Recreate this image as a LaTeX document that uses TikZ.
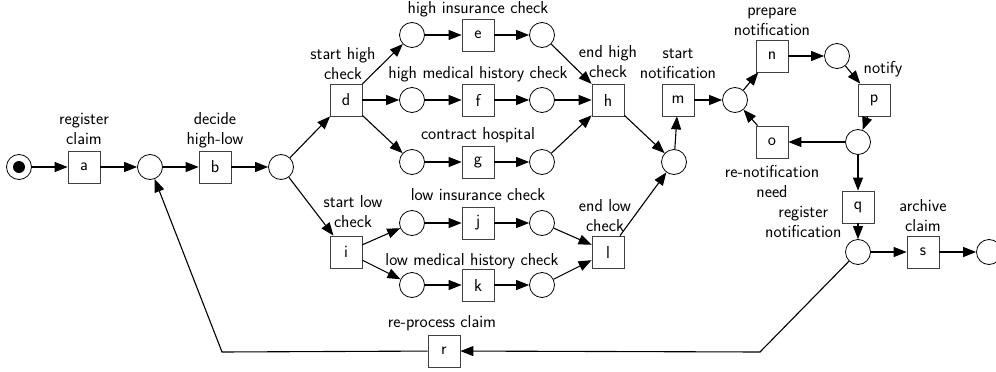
\documentclass[tikz,border=0pt]{standalone}
\usepackage{fontspec}
\usetikzlibrary{arrows.meta}
\begin{document}
\begin{tikzpicture}[x=1pt,y=-1pt,
  every node/.style={font=\sffamily\fontsize{17.3}{20}\selectfont},
  trans/.style={draw=black!75, line width=0.8pt, minimum size=32pt, inner sep=0pt},
  place/.style={circle, draw=black, line width=0.8pt, minimum size=25pt, inner sep=0pt},
  lbl/.style={align=center, inner sep=0pt, text depth=0pt, label distance=6pt},
  arc/.style={line width=1.1pt, -{Triangle[length=13pt,width=10pt]}},
  ]
\useasboundingbox (0,0) rectangle (996,372);
% places and transitions
\node[place] (start) at (19,167) {};
\fill (start.center) circle (6pt);
\node[trans, label={[lbl]above:{register\\claim}}] (a) at (84,167) {a};
\node[place] (p1) at (150,167) {};
\node[trans, label={[lbl]above:{decide\\high-low}}] (b) at (215,167) {b};
\node[place] (p2) at (281,167) {};
\node[trans, label={[lbl,xshift=-3pt,label distance=4pt]above:{start high\\check}}] (d) at (346,100) {d};
\node[place] (pe1) at (412,35) {};
\node[trans, label={[lbl,label distance=5pt]above:{high insurance check}}] (e) at (478,35) {e};
\node[place] (pe2) at (542,35) {};
\node[place] (pf1) at (412,100) {};
\node[trans, label={[lbl,label distance=5pt]above:{high medical history check}}] (f) at (478,100) {f};
\node[place] (pf2) at (542,100) {};
\node[place] (pg1) at (412,162) {};
\node[trans, label={[lbl]above:{contract hospital}}] (g) at (478,162) {g};
\node[place] (pg2) at (542,162) {};
\node[trans, label={[lbl]above:{end high\\check}}] (h) at (608,100) {h};
\node[trans, label={[lbl,xshift=7pt,label distance=8pt]above:{start low\\check}}] (i) at (346,252) {i};
\node[place] (pj1) at (412,223) {};
\node[trans, label={[lbl]above:{low insurance check}}] (j) at (478,223) {j};
\node[place] (pj2) at (542,223) {};
\node[place] (pk1) at (412,285) {};
\node[trans, label={[lbl,xshift=-6pt,label distance=3pt]above:{low medical history check}}] (k) at (478,285) {k};
\node[place] (pk2) at (542,285) {};
\node[trans, label={[lbl,xshift=-3pt,label distance=4pt]above:{end low\\check}}] (l) at (608,252) {l};
\node[place] (pm) at (674,162) {};
\node[trans, label={[lbl,label distance=5pt]above:{start\\notification}}] (m) at (678,100) {m};
\node[place] (pn) at (735,100) {};
\node[trans, label={[lbl,label distance=4pt]above:{prepare\\notification}}] (n) at (772,56) {n};
\node[place] (pn2) at (837,56) {};
\node[trans, label={[lbl,xshift=9pt,label distance=10pt]above:{notify}}] (p) at (874,100) {p};
\node[place] (pp) at (858,142) {};
\node[trans, label={[lbl,label distance=7pt]below:{re-notification\\need}}] (o) at (772,142) {o};
\node[trans, label={[lbl,yshift=-15pt,label distance=0pt]left:{register\\notification}}] (q) at (858,207) {q};
\node[place] (pq) at (858,252) {};
\node[trans, label={[lbl,label distance=4pt]above:{archive\\claim}}] (s) at (923,252) {s};
\node[place] (pend) at (989,252) {};
\node[trans, label={[lbl,xshift=-2pt,label distance=7pt]above:{re-process claim}}] (r) at (444,351) {r};
\coordinate (c1) at (760,352);
\coordinate (c2) at (222,352);
% arcs
\draw[arc] (start) -- (a);
\draw[arc] (a) -- (p1);
\draw[arc] (p1) -- (b);
\draw[arc] (b) -- (p2);
\draw[arc] (p2) -- (d);
\draw[arc] (p2) -- (i);
\draw[arc] (d) -- (pe1);
\draw[arc] (d) -- (pf1);
\draw[arc] (d) -- (pg1);
\draw[arc] (pe1) -- (e);
\draw[arc] (e) -- (pe2);
\draw[arc] (pf1) -- (f);
\draw[arc] (f) -- (pf2);
\draw[arc] (pg1) -- (g);
\draw[arc] (g) -- (pg2);
\draw[arc] (pe2) -- (h);
\draw[arc] (pf2) -- (h);
\draw[arc] (pg2) -- (h);
\draw[arc] (i) -- (pj1);
\draw[arc] (i) -- (pk1);
\draw[arc] (pj1) -- (j);
\draw[arc] (j) -- (pj2);
\draw[arc] (pk1) -- (k);
\draw[arc] (k) -- (pk2);
\draw[arc] (pj2) -- (l);
\draw[arc] (pk2) -- (l);
\draw[arc] (h) -- (pm);
\draw[arc] (l) -- (pm);
\draw[arc] (pm) -- (m);
\draw[arc] (m) -- (pn);
\draw[arc] (pn) -- (n);
\draw[arc] (n) -- (pn2);
\draw[arc] (pn2) -- (p);
\draw[arc] (p) -- (pp);
\draw[arc] (pp) -- (o);
\draw[arc] (o) -- (pn);
\draw[arc] (pp) -- (q);
\draw[arc] (q) -- (pq);
\draw[arc] (pq) -- (s);
\draw[arc] (s) -- (pend);
\draw[arc] (pq) -- (c1) -- (r);
\draw[arc] (r) -- (c2) -- (p1);
\end{tikzpicture}
\end{document}
